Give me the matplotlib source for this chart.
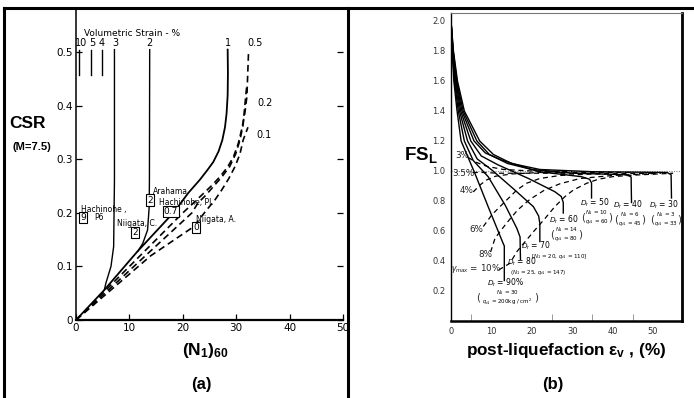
import matplotlib
matplotlib.use("Agg")
import matplotlib.pyplot as plt
from matplotlib.lines import Line2D

plt.rcParams["font.family"] = ["DejaVu Sans"]
plt.rcParams["mathtext.fontset"] = "custom"
plt.rcParams["mathtext.rm"] = "Liberation Sans"
plt.rcParams["mathtext.it"] = "Liberation Sans:italic"
plt.rcParams["mathtext.bf"] = "Liberation Sans:bold"

# ---- panel (a): CSR vs (N1)60, volumetric strain contours ----
short_n = [0.6, 2.9, 4.8]          # 10, 5, 4 % stubs
short_csr = [0.458, 0.505]

strain3_n = [7.2, 7.2, 7.05, 6.55, 5.6, 5.3]
strain3_csr = [0.505, 0.26, 0.137, 0.10, 0.069, 0.056]
strain2_n = [13.8, 13.75, 13.7, 13.4, 12.5, 11.55]
strain2_csr = [0.505, 0.26, 0.21, 0.168, 0.143, 0.128]
strain1_n = [0, 5.3, 11.5, 18.4, 21.0, 23.2, 24.6, 25.7, 26.7, 27.4, 27.9, 28.2, 28.4, 28.45, 28.4]
strain1_csr = [0, 0.056, 0.128, 0.202, 0.237, 0.262, 0.28, 0.295, 0.315, 0.336, 0.36, 0.386, 0.42, 0.461, 0.505]
strain05_n = [0, 6.0, 12.0, 20.0, 23.2, 25.3, 27.0, 28.4, 29.5, 30.4, 31.0, 31.6, 32.0, 32.3]
strain05_csr = [0, 0.06, 0.12, 0.20, 0.23, 0.25, 0.268, 0.286, 0.305, 0.33, 0.355, 0.385, 0.417, 0.498]
strain02_n = [0, 6.5, 13.0, 21.7, 22.8, 24.3, 25.7, 27.3, 28.8, 29.9, 30.7, 31.3, 31.6, 32.0]
strain02_csr = [0, 0.06, 0.12, 0.20, 0.218, 0.233, 0.249, 0.267, 0.287, 0.31, 0.336, 0.365, 0.399, 0.44]
strain01_n = [0, 7.0, 14.0, 22.0, 24.5, 26.0, 27.3, 28.6, 29.8, 30.7, 31.3, 32.2]
strain01_csr = [0, 0.06, 0.12, 0.174, 0.206, 0.224, 0.243, 0.264, 0.287, 0.31, 0.336, 0.36]

site_n = [1.3, 11.0, 13.9, 17.8, 22.5]
site_csr = [0.191, 0.163, 0.224, 0.202, 0.172]
site_val = ["9", "2", "2", "0.7", "0"]

# ---- panel (b): FS_L vs post-liquefaction volumetric strain ----
dr_labels = ["90", "80", "70", "60", "50", "40", "30"]
dr_eps = [
    [0, 0.3, 0.7, 1.5, 2.5, 5.9, 9.2, 12.9, 13.2, 13.2],
    [0, 0.35, 0.85, 1.8, 3.3, 5.5, 9.2, 13.4, 16.3, 17.1, 17.2],
    [0, 0.4, 1.0, 2.1, 4.1, 6.5, 10.1, 15.8, 20.4, 21.7, 22.0, 22.0],
    [0, 0.45, 1.15, 2.4, 4.9, 7.5, 11.7, 19.1, 25.7, 27.3, 27.8, 27.8],
    [0, 0.5, 1.3, 2.7, 5.7, 8.5, 12.5, 21.6, 32.3, 34.3, 34.8, 34.8],
    [0, 0.55, 1.45, 3.0, 6.4, 9.5, 14.0, 20.0, 30.0, 43.5, 44.6, 44.7],
    [0, 0.6, 1.6, 3.3, 7.1, 10.5, 15.0, 22.0, 35.0, 53.5, 54.5, 54.6],
]
dr_fs = [
    [2.0, 1.8, 1.6, 1.4, 1.2, 0.985, 0.762, 0.518, 0.5, 0.27],
    [2.0, 1.8, 1.6, 1.4, 1.2, 1.07, 0.962, 0.773, 0.618, 0.56, 0.41],
    [2.0, 1.8, 1.6, 1.4, 1.2, 1.08, 1.007, 0.873, 0.762, 0.70, 0.65, 0.53],
    [2.0, 1.8, 1.6, 1.4, 1.2, 1.1, 1.04, 0.951, 0.862, 0.83, 0.79, 0.72],
    [2.0, 1.8, 1.6, 1.4, 1.2, 1.12, 1.073, 0.996, 0.962, 0.945, 0.92, 0.82],
    [2.0, 1.8, 1.6, 1.4, 1.2, 1.11, 1.05, 1.01, 0.985, 0.975, 0.96, 0.79],
    [2.0, 1.8, 1.6, 1.4, 1.2, 1.11, 1.05, 1.01, 0.995, 0.99, 0.975, 0.82],
]
dr_notes = [
    ["$N_1$ = 30", "$q_{c1}$ = 200kg / cm$^2$"],
    ["($N_1$ = 25, $q_{c1}$ = 147)"],
    ["[$N_1$ = 20, $q_{c1}$ = 110]"],
    ["$N_1$ = 14", "$q_{c1}$ = 80"],
    ["$N_1$ = 10", "$q_{c1}$ = 60"],
    ["$N_1$ = 6", "$q_{c1}$ = 45"],
    ["$N_1$ = 3", "$q_{c1}$ = 33"],
]
dr_label_pos = [(13.4, 0.253), (17.6, 0.392), (21.0, 0.50), (28.0, 0.673),
                (35.6, 0.787), (43.8, 0.773), (52.7, 0.773)]
dr_bracket_half = [7.2, 0, 0, 3.4, 3.4, 3.4, 3.4]

gamma_labels = ["3%", "3.5%", "4%", "6%", "8%", "$\\gamma_{max}$ = 10%"]
gamma_label_pos = [(2.7, 1.10), (3.0, 0.985), (3.9, 0.873), (6.2, 0.607), (8.4, 0.44), (6.2, 0.353)]
gamma_eps = [
    [4.3, 6.0, 9.0, 13.0, 20.0, 30.0],
    [5.4, 8.0, 12.0, 18.0, 26.0, 40.0],
    [5.5, 7.2, 8.8, 11.0, 15.0, 22.0, 30.0, 45.0],
    [8.0, 10.1, 11.7, 13.8, 16.3, 18.7, 22.0, 27.0, 35.0, 50.0],
    [9.8, 10.9, 12.1, 14.0, 16.5, 19.5, 23.0, 27.0, 32.0, 40.0, 52.0],
    [11.8, 14.6, 16.3, 18.7, 20.8, 23.3, 25.7, 28.2, 30.3, 33.6, 36.5, 40.0, 45.0, 55.0],
]
gamma_fs = [
    [1.09, 1.06, 1.03, 1.01, 1.0, 0.995],
    [0.99, 0.99, 0.985, 0.985, 0.985, 0.985],
    [0.86, 0.907, 0.94, 0.965, 0.98, 0.99, 0.99, 0.99],
    [0.63, 0.707, 0.751, 0.807, 0.873, 0.918, 0.95, 0.97, 0.98, 0.985],
    [0.46, 0.551, 0.595, 0.66, 0.74, 0.81, 0.87, 0.915, 0.95, 0.97, 0.985],
    [0.34, 0.385, 0.462, 0.54, 0.607, 0.684, 0.762, 0.829, 0.873, 0.918, 0.945, 0.962, 0.972, 0.985],
]

fig = plt.figure(figsize=(6.94, 3.98), dpi=100)
W, H = 694.0, 398.0

# outer frame
for xs, ys in [([4, 694], [8, 8]), ([4, 4], [8, 398]), ([348, 348], [8, 398])]:
    fig.add_artist(Line2D([x / W for x in xs], [1 - y / H for y in ys],
                          transform=fig.transFigure, color="black", lw=2.2))

# ---------------- panel (a) ----------------
ax = fig.add_axes([76 / W, 1 - 320 / H, (343 - 76) / W, 310 / H])
ax.set_xlim(0, 50)
ax.set_ylim(0, 0.579)
for s in ["top", "right"]:
    ax.spines[s].set_visible(False)
ax.spines["left"].set_linewidth(1.1)
ax.spines["bottom"].set_linewidth(1.6)
ax.set_xticks([0, 10, 20, 30, 40, 50])
ax.set_yticks([0, 0.1, 0.2, 0.3, 0.4, 0.5])
ax.set_yticklabels(["0", "0.1", "0.2", "0.3", "0.4", "0.5"])
ax.tick_params(direction="in", length=4, width=0.9, labelsize=7.5, pad=2, right=True)

for x in short_n:
    ax.plot([x, x], short_csr, color="black", lw=1.0)
ax.plot(strain3_n, strain3_csr, color="black", lw=1.0)
ax.plot(strain2_n, strain2_csr, color="black", lw=1.0)
ax.plot(strain1_n, strain1_csr, color="black", lw=1.3)
for xs, ys in [(strain05_n, strain05_csr), (strain02_n, strain02_csr), (strain01_n, strain01_csr)]:
    ax.plot(xs, ys, color="black", lw=1.2, ls=(0, (4, 2.5)))

ax.text(1.5, 0.536, "Volumetric Strain - %", fontsize=6.5, va="center")
for lbl, x in zip(["10", "5", "4", "3", "2", "1", "0.5"], [0.9, 3.0, 4.8, 7.3, 13.8, 28.4, 33.5]):
    ax.text(x, 0.518, lbl, fontsize=7, ha="center", va="center")
ax.text(34.0, 0.405, "0.2", fontsize=7, va="center")
ax.text(33.7, 0.346, "0.1", fontsize=7, va="center")

ax.text(1.0, 0.206, "Hachinohe ,", fontsize=5.5, va="center")
ax.text(3.4, 0.191, "P6", fontsize=5.5, va="center")
ax.text(7.7, 0.181, "Niigata, C.", fontsize=5.5, va="center")
ax.text(14.5, 0.24, "Arahama", fontsize=5.5, va="center")
ax.text(15.5, 0.219, "Hachinohe, PI.", fontsize=5.5, va="center")
ax.text(22.4, 0.187, "Niigata, A.", fontsize=5.5, va="center")
for x, y, v in zip(site_n, site_csr, site_val):
    ax.text(x, y, v, fontsize=6.5, ha="center", va="center",
            bbox=dict(boxstyle="square,pad=0.12", fc="white", ec="black", lw=0.8))

fig.text(28 / W, 1 - 124 / H, "CSR", fontsize=12.5, fontweight="bold", family="Liberation Sans",
         ha="center", va="center")
fig.text(32 / W, 1 - 147 / H, "(M=7.5)", fontsize=8, fontweight="bold", family="Liberation Sans",
         ha="center", va="center")
fig.text(205 / W, 1 - 350 / H, r"(N$_\mathbf{1}$)$_\mathbf{60}$", fontsize=12.5, fontweight="bold",
         family="Liberation Sans", ha="center", va="center")
fig.text(201 / W, 1 - 385 / H, "(a)", fontsize=12, fontweight="bold", family="Liberation Sans",
         ha="center", va="center")

# ---------------- panel (b) ----------------
bx = fig.add_axes([451 / W, 1 - 321 / H, (682 - 451) / W, 308 / H])
bx.set_xlim(0, 57.2)
bx.set_ylim(0, 2.053)
bx.spines["left"].set_linewidth(1.0)
bx.spines["top"].set_linewidth(0.8)
bx.spines["top"].set_color("#777777")
bx.spines["right"].set_linewidth(2.0)
bx.spines["bottom"].set_linewidth(1.8)
bx.set_xticks([0, 10, 20, 30, 40, 50])
bx.set_yticks([0.2, 0.4, 0.6, 0.8, 1.0, 1.2, 1.4, 1.6, 1.8, 2.0])
bx.set_yticklabels(["%.1f" % v for v in bx.get_yticks()])
bx.tick_params(length=0, labelsize=6, labelcolor="#333333", pad=4)
bx.set_xticks([5, 25, 30, 35, 40, 45], minor=True)
bx.tick_params(which="minor", direction="in", length=5, width=0.7, color="#999999")

bx.axhline(1.0, color="#888888", lw=0.8, ls=(0, (1, 1.2)))

for xs, ys in zip(dr_eps, dr_fs):
    bx.plot(xs, ys, color="black", lw=1.0)
for xs, ys in zip(gamma_eps, gamma_fs):
    bx.plot(xs, ys, color="black", lw=0.9, ls=(0, (4, 3)))

for lbl, (x, y) in zip(gamma_labels, gamma_label_pos):
    bx.text(x, y, lbl, fontsize=6.3, ha="center", va="center", color="#222222")

for lbl, (x, y), notes, half in zip(dr_labels, dr_label_pos, dr_notes, dr_bracket_half):
    suffix = "%" if lbl == "90" else ""
    bx.text(x, y, "$D_r$ = " + lbl + suffix, fontsize=5.5, ha="center", va="center")
    if len(notes) == 1:
        dx = 5.8 if lbl == "70" else 3.9
        bx.text(x + dx, y - 0.072, notes[0], fontsize=4.0, ha="center", va="center")
    else:
        nx = x + 0.5
        bx.text(nx, y - 0.064, notes[0], fontsize=4.0, ha="center", va="center")
        bx.text(nx, y - 0.124, notes[1], fontsize=4.0, ha="center", va="center")
        bx.text(nx - half, y - 0.094, "(", fontsize=7.5, ha="center", va="center", color="#333333")
        bx.text(nx + half, y - 0.094, ")", fontsize=7.5, ha="center", va="center", color="#333333")

fig.text(421 / W, 1 - 155 / H, r"FS$_\mathbf{L}$", fontsize=13.5, fontweight="bold",
         family="Liberation Sans", ha="center", va="center")
fig.text(566 / W, 1 - 350 / H, r"post-liquefaction ε$_\mathbf{v}$ , (%)", fontsize=12.3, fontweight="bold",
         family="Liberation Sans", ha="center", va="center")
fig.text(553 / W, 1 - 384 / H, "(b)", fontsize=12, fontweight="bold", family="Liberation Sans",
         ha="center", va="center")

fig.savefig("out.png", dpi=100, facecolor="white")
